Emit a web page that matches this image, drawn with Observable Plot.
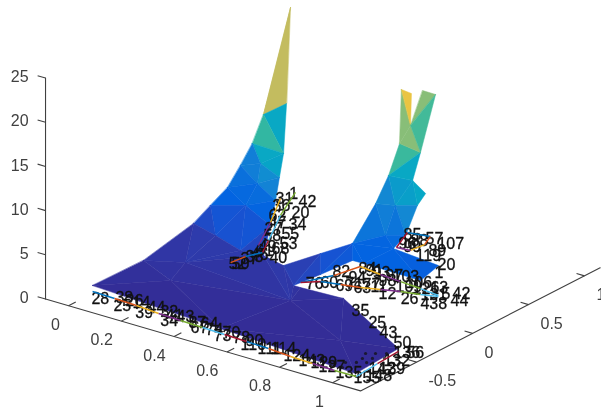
<!DOCTYPE html>
<html><head><meta charset="utf-8">
<style>html,body{margin:0;padding:0;background:#fff;overflow:hidden}svg{display:block;filter:blur(.45px)}</style>
<script src="https://cdn.jsdelivr.net/npm/d3@7"></script>
<script src="https://cdn.jsdelivr.net/npm/@observablehq/plot@0.6"></script>
</head><body><div id="chart"></div>
<script>
// surface vertices
const meshX=[.622,.499,.482,.395,.421,.502,.480,.496,.402,.362,.323,.168,-.004,.452,.455,.371,.364,.476,.476,.349,.237,.397,.488,.676,.673,.565,.563,.620,.550,.664,.990,1.004,.449,.487,.545,.812,.203,.627,.651,.652,.652,.695,.677,.708,.758,.745,.733,.784,.737,.767,.757,.863,.890,.714,.718,.684];
const meshY=[-.484,-.309,-.189,-.190,-.351,-.263,-.248,-.320,-.527,-.586,-.644,-.726,-.776,-.351,-.386,-.339,-.277,-.319,-.381,-.510,-.515,-.400,-.231,-.058,-.050,-.322,-.076,-.211,-.224,-.109,-.387,-.804,-.701,-.790,-.302,-.486,-.567,.264,.323,.419,.436,.424,.458,.493,.491,.387,.345,.341,.378,.202,.117,.270,.046,-.048,.138,.307];
const meshZ=[36,27,22,20,18,17,14,12,14,12,10,5,1,16,14,15,10,9,6,8,4,6,4,7,5,3,5,4,2,1,0,0,.5,.5,1,0,2,9,12,15,21,21,17,21,21,15,12,11,9,7,6,4,4,5,7,9];
const triA=[0,0,3,3,4,5,13,6,4,13,15,14,8,8,9,9,16,16,16,10,10,19,21,20,11,11,36,20,18,22,25,28,29,29,30,31,33,33,12,22,26,26,23,23,54,37,38,55,46,38,38,40,42,40,43,44,55,55,54,23,23,23,50,50];
const triB=[1,3,2,5,5,6,6,7,13,14,14,7,14,16,16,19,7,17,21,19,20,21,17,21,20,36,20,18,22,25,28,29,35,30,31,33,34,36,36,26,27,23,24,37,37,38,46,46,47,39,45,42,45,41,44,45,48,49,49,54,50,53,51,52];
const triC=[3,2,5,4,13,13,14,14,15,15,8,16,16,9,19,10,17,21,19,20,11,20,18,18,36,12,34,34,34,34,34,34,34,35,35,35,35,34,33,25,25,27,27,54,55,55,55,48,48,45,46,39,39,42,42,42,49,54,50,50,53,24,52,53];
const faceValue=[20.5,20.5,11,14,11,10.5,8,7,6.5,6.5,5,4.6,4.2,3.7,2.8,2.2,3.8,2.8,2.6,1.3,.9,1.2,2,1.2,.6,.35,.5,.8,1.1,1,.6,.4,.2,.15,0,.05,.1,.2,.12,1.6,2,2.7,3,5.5,6.5,7.5,9.5,10,10.8,14.5,11,17.6,17.6,23.4,17.6,14.8,7.5,5.5,4.4,3.8,3.7,3.6,3.4,3.6];
// node labels
const labelText=["28","25","38","14","39","44","32","34","43","87","67","74","73","78","110","111","124","143","127","135","155","142","132","136","56","35","25","43","50","76","60","82","94","69","63","91","98","11","12","103","106","26","121","63","438","44","42","5","85","57","107","89","119","20","1","1","31","42","20","34","55","53","68","40","27","62","49","33","50","36","47","58","61","37","46","52","96","88","99","84","93","97","71","77","109","131","26","41","64","70","90","114","129","148","139"];
const labelX=[.013,.099,.066,.131,.185,.191,.241,.283,.303,.360,.389,.434,.482,.537,.590,.649,.745,.805,.882,.951,1.018,1.012,1.010,.997,1.028,.698,.795,.869,.950,.460,.491,.468,.535,.541,.594,.543,.622,.631,.683,.637,.696,.760,.742,.780,.831,.890,.862,.835,.466,.538,.590,.601,.594,.689,.719,-.003,-.013,.057,.092,.141,.166,.209,.213,.250,.102,.050,.172,.188,.187,.013,.083,.132,.184,.185,.190,.180,.496,.511,.522,.517,.570,.615,.556,.602,.691,.789,.105,.272,.394,.490,.583,.681,.843,1.037,1.036];
const labelY=[-.826,-.832,-.737,-.737,-.839,-.744,-.747,-.847,-.750,-.778,-.827,-.801,-.841,-.802,-.854,-.843,-.837,-.844,-.846,-.857,-.854,-.706,-.569,-.448,-.406,-.118,-.196,-.271,-.337,.033,.092,.253,.238,.108,.144,.371,.302,.210,.158,.392,.367,.174,.323,.393,.183,.313,.397,.362,.893,.920,.903,.797,.699,.671,.572,.979,.879,.920,.775,.632,.510,.392,.311,.205,.510,.667,.291,.138,.015,.791,.590,.429,.237,.100,.177,.006,.777,.849,.760,.371,.372,.380,.162,.206,.291,.283,-.738,-.775,-.750,-.779,-.793,-.801,-.827,-.793,-.674];
// coloured edge lines between nodes
const edgePath=[0,0,0,0,0,0,0,0,0,0,0,0,0,0,0,1,1,1,1,1,1,1,2,2,2,2,2,2,2,2,3,3,3,3,3,3,4,4,4,4,4,4,5,5,5];
const edgeX=[-.017,.069,.155,.246,.332,.418,.504,.590,.676,.767,.853,.939,1.020,1.010,1.004,.443,.490,.512,.598,.680,.761,.837,.443,.486,.549,.611,.669,.727,.789,.842,.510,.466,.540,.564,.558,.510,.007,.079,.168,.210,.188,.180,-.001,.088,.167];
const edgeY=[-.745,-.751,-.758,-.775,-.782,-.788,-.795,-.801,-.808,-.825,-.832,-.838,-.834,-.622,-.420,.028,.212,.399,.375,.362,.349,.330,.028,.104,.135,.166,.209,.251,.283,.319,.726,.928,.958,.850,.739,.726,1.010,.706,.390,.238,.138,.023,.895,.596,.302];
// hidden label specks showing through the plate
const speckX=[.934,.958,.985,.950,.974,1.003,.928,.954,.979,.906,.944,.863,.820];
const speckY=[-.549,-.517,-.482,-.615,-.582,-.543,-.714,-.678,-.646,-.796,-.779,-.766,-.789];
const xTicks=[0,.2,.4,.6,.8,1], yTicks=[-.5,0,.5,1], zTicks=[0,5,10,15,20,25];
const xLim=[-.087,1.106], yLim=[-1,1.14], floorZ=.2;
const lineColors=["#0072BD","#D95319","#EDB120","#7E2F8E","#77AC30","#4DBEEE","#A2142F"];
const parulaStops=[0,1.4,2.5,3.6,7.2,10.8,14.4,18,21.6,25.2,36];
const parulaColors=["#342c95","#2d3cae","#1a50cf","#0363e1","#1485d4","#06a7c6","#38b99e","#92bf73","#d9ba56","#fcce2e","#f9fb0e"];

// fixed viewing direction of the 3-D axes
const px=d=>68+264*d.x+112*(d.y+1);
const py=d=>307+77*d.x-57.5*(d.y+1)-8.84*d.z;
const P=(x,y,z)=>({x,y,z});
const facePts=faceValue.flatMap((c,f)=>[triA[f],triB[f],triC[f]].map(v=>({...P(meshX[v],meshY[v],meshZ[v]),f,c})));
const labels=labelText.map((t,i)=>({...P(labelX[i],labelY[i],0),t}));
const specks=speckX.map((x,i)=>P(x,speckY[i],0));
const edges=[];
edgeX.forEach((_,i)=>{ if(i&&edgePath[i]===edgePath[i-1]) edges.push({a:P(edgeX[i-1],edgeY[i-1],0),b:P(edgeX[i],edgeY[i],0),k:edges.length%lineColors.length}); });
const axisPaths=[[P(xLim[0],yLim[0],floorZ),P(xLim[1],yLim[0],floorZ),P(xLim[1],yLim[1],floorZ)],[P(xLim[0],yLim[0],floorZ),P(xLim[0],yLim[0],25.2)]];
const axisLine=axisPaths.flatMap((p,g)=>p.map(q=>({...q,g})));
const xT=xTicks.map(v=>({a:P(v,yLim[0],floorZ),b:P(v,yLim[0]+.065,floorZ),t:String(v)}));
const yT=yTicks.map(v=>({a:P(xLim[1],v,floorZ),b:P(xLim[1]-.03,v,floorZ),t:String(v)}));
const zT=zTicks.map(v=>({a:P(xLim[0],yLim[0],floorZ+v),b:P(xLim[0]-.03,yLim[0],floorZ+v),t:String(v)}));
const ticks=[...xT,...yT,...zT];
const gray="#404040", font="'Liberation Sans',Arial,sans-serif";
const tickText=(data,opt)=>Plot.text(data,{x:d=>px(d.a),y:d=>py(d.a),text:"t",fill:gray,fontSize:16,fontFamily:font,lineAnchor:"middle",...opt});

const chart=Plot.plot({
  width:601,height:411,margin:0,style:{background:"#fff",fontFamily:font},
  x:{domain:[0,601],range:[0,601],axis:null},
  y:{domain:[0,411],range:[0,411],axis:null},
  color:{type:"linear",domain:parulaStops,range:parulaColors,clamp:true},
  marks:[
    Plot.line(axisLine,{x:px,y:py,z:"g",stroke:gray,strokeWidth:1.1}),
    Plot.link(ticks,{x1:d=>px(d.a),y1:d=>py(d.a),x2:d=>px(d.b),y2:d=>py(d.b),stroke:gray,strokeWidth:1.1}),
    tickText(xT,{textAnchor:"end",dx:-8.5,dy:19}),
    tickText(yT,{textAnchor:"start",dx:12,dy:19}),
    tickText(zT,{textAnchor:"end",dx:-17,dy:-1}),
    Plot.line(facePts,{x:px,y:py,z:"f",fill:"c",stroke:"c",strokeWidth:.5,curve:"linear-closed"}),
    Plot.dot(specks,{x:px,y:py,r:1.6,fill:"#111",fillOpacity:.75}),
    Plot.text(labels,{x:px,y:py,text:"t",textAnchor:"start",lineAnchor:"middle",fill:"#111",stroke:"#111",strokeWidth:.3,fontSize:16,fontFamily:font}),
    ...lineColors.map((c,k)=>Plot.link(edges.filter(e=>e.k===k),{x1:d=>px(d.a),y1:d=>py(d.a),x2:d=>px(d.b),y2:d=>py(d.b),stroke:c,strokeWidth:1.4}))
  ]
});
document.getElementById("chart").append(chart);
</script></body></html>
